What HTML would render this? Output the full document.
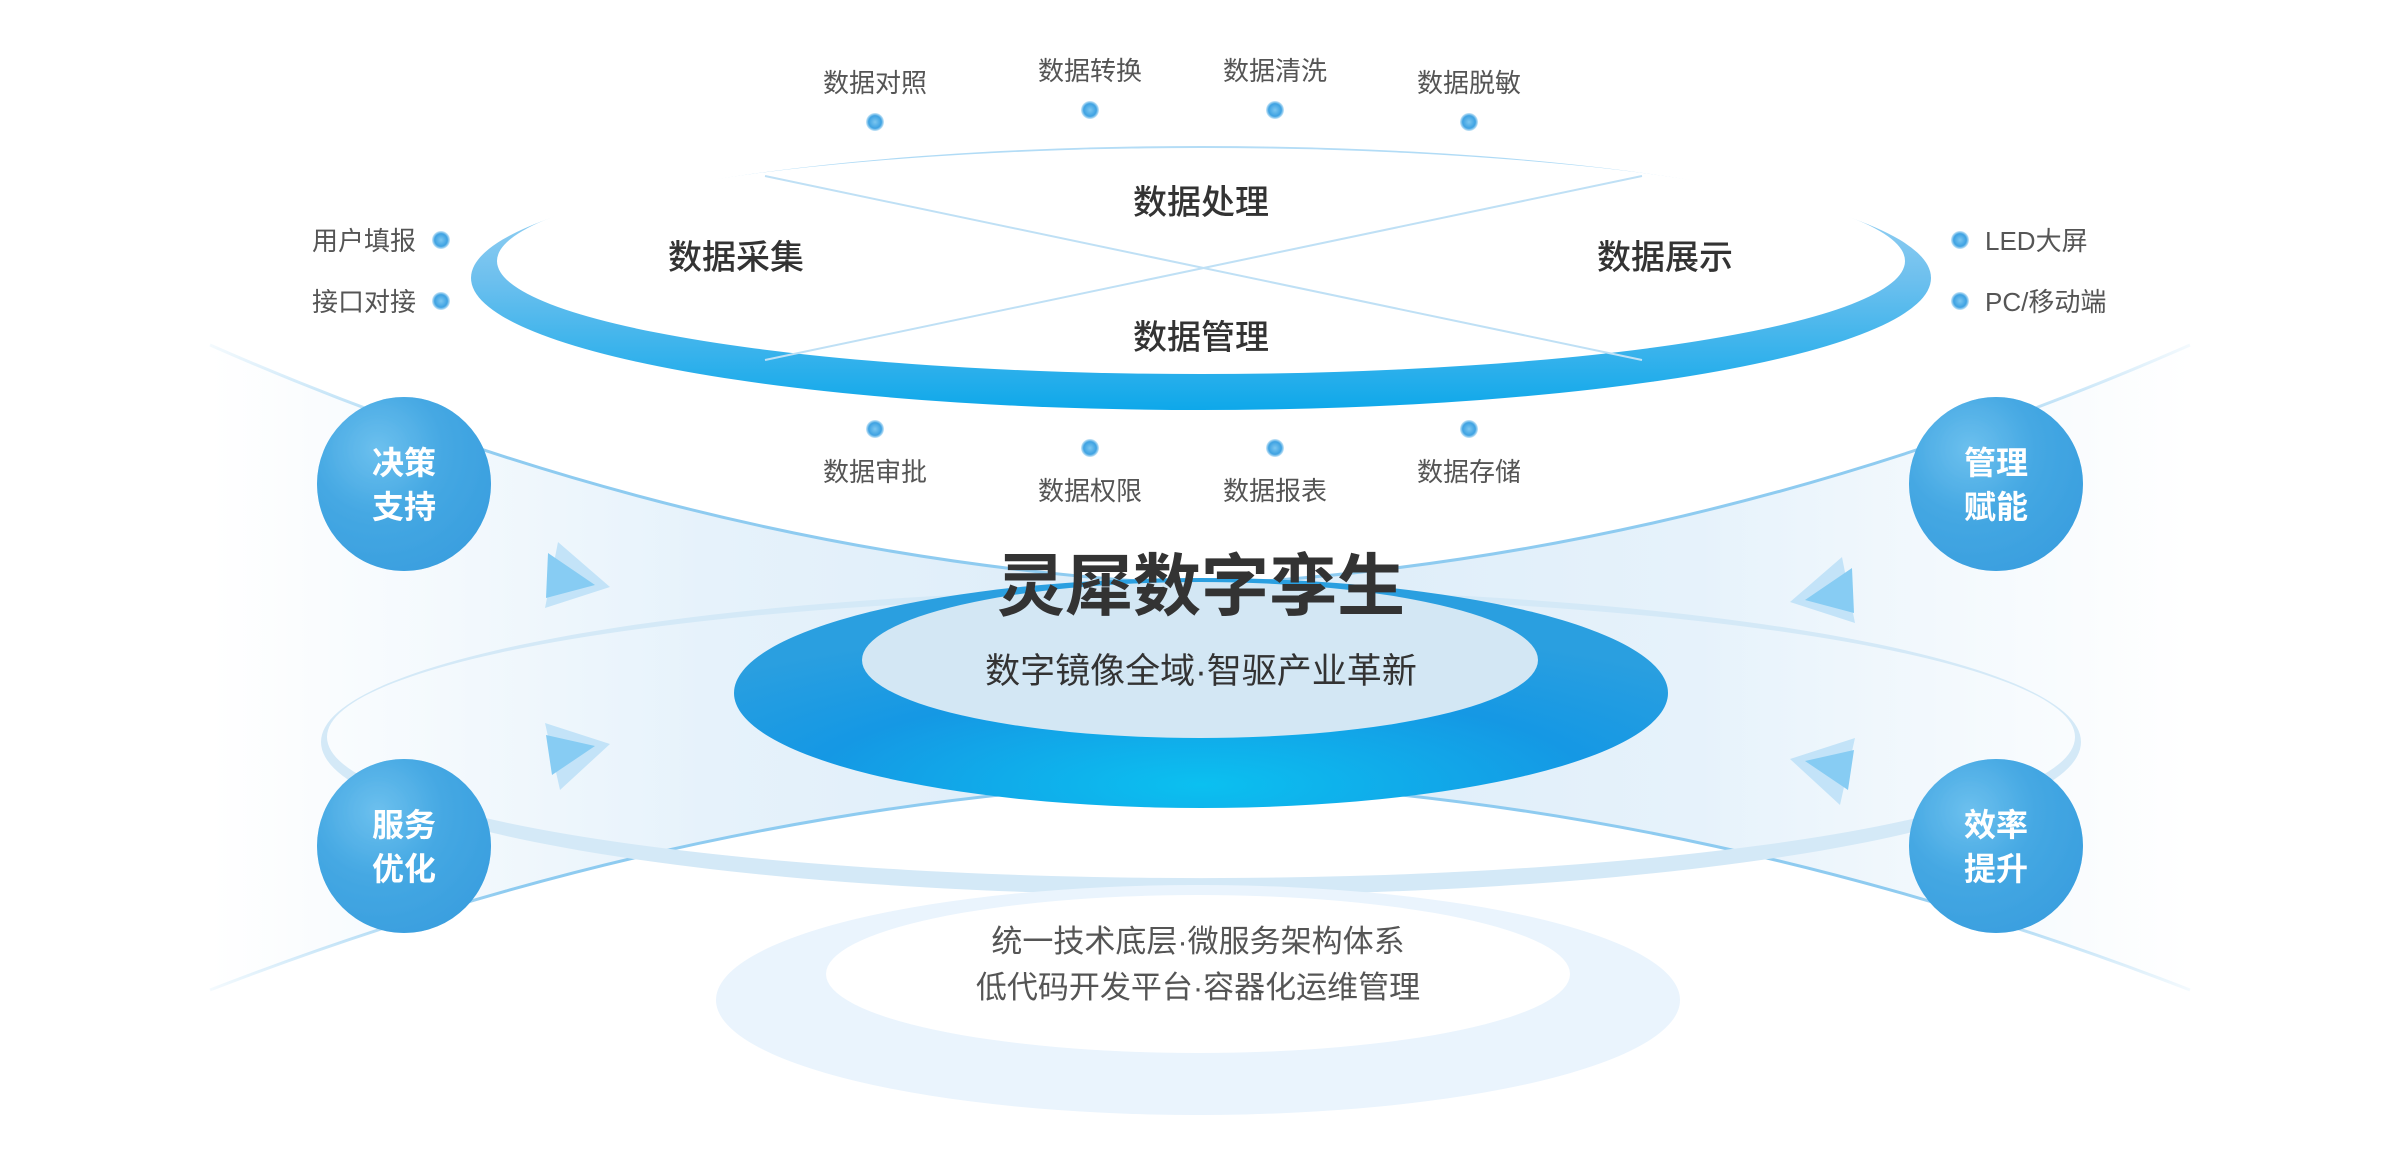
<!DOCTYPE html>
<html><head><meta charset="utf-8"><style>
html,body{margin:0;padding:0;background:#fff;}
svg{display:block;}
text{font-family:"Liberation Sans","Noto Sans CJK SC",sans-serif;}
</style></head><body>
<svg width="2400" height="1164" viewBox="0 0 2400 1164" xmlns="http://www.w3.org/2000/svg">
<defs>
<linearGradient id="hgL" x1="0" x2="1" y1="0" y2="0"><stop offset="0" stop-color="#e8f3fb" stop-opacity="0"/><stop offset="0.5" stop-color="#e6f2fb"/><stop offset="1" stop-color="#dcecf8"/></linearGradient>
<linearGradient id="hgR" x1="1" x2="0" y1="0" y2="0"><stop offset="0" stop-color="#e8f3fb" stop-opacity="0"/><stop offset="0.5" stop-color="#e6f2fb"/><stop offset="1" stop-color="#dcecf8"/></linearGradient>
<linearGradient id="lnL" x1="0" x2="1" y1="0" y2="0"><stop offset="0" stop-color="#8ecbf0" stop-opacity="0.1"/><stop offset="0.3" stop-color="#8ecbf0"/><stop offset="1" stop-color="#8ecbf0"/></linearGradient>
<linearGradient id="lnR" x1="1" x2="0" y1="0" y2="0"><stop offset="0" stop-color="#8ecbf0" stop-opacity="0.1"/><stop offset="0.3" stop-color="#8ecbf0"/><stop offset="1" stop-color="#8ecbf0"/></linearGradient>
<linearGradient id="topRing" x1="0" x2="0" y1="0" y2="1"><stop offset="0" stop-color="#b5ddf6"/><stop offset="0.5" stop-color="#6ec0ee"/><stop offset="1" stop-color="#0ea8ea"/></linearGradient>
<radialGradient id="core" cx="0.5" cy="0.9" r="0.7"><stop offset="0" stop-color="#0bc0f0"/><stop offset="0.6" stop-color="#1598e4"/><stop offset="1" stop-color="#2a9fe0"/></radialGradient>
<radialGradient id="ball" cx="0.35" cy="0.3" r="0.75"><stop offset="0" stop-color="#6cc0ee"/><stop offset="0.5" stop-color="#45a8e3"/><stop offset="1" stop-color="#3a9fdf"/></radialGradient>
<radialGradient id="dot" cx="0.5" cy="0.5" r="0.5"><stop offset="0" stop-color="#7cc6f0"/><stop offset="0.7" stop-color="#3ea2e2"/><stop offset="1" stop-color="#cde8f8"/></radialGradient>
<filter id="sh" x="-30%" y="-30%" width="160%" height="160%"><feGaussianBlur in="SourceAlpha" stdDeviation="8"/><feOffset dy="4"/><feFlood flood-color="#3b9fe0" flood-opacity="0.35"/><feComposite operator="in" in2="SourceAlpha"/><feMerge><feMergeNode/><feMergeNode in="SourceGraphic"/></feMerge></filter>
</defs>

<!-- hourglass fill -->
<path d="M210 345 Q700 560 1201 585 L1201 780 Q700 800 210 990 Z" fill="url(#hgL)"/>
<path d="M2190 345 Q1700 560 1201 585 L1201 780 Q1700 800 2190 990 Z" fill="url(#hgR)"/>
<path d="M210 345 Q700 560 1201 585" fill="none" stroke="url(#lnL)" stroke-width="3"/>
<path d="M1201 585 Q1700 560 2190 345" fill="none" stroke="url(#lnR)" stroke-width="3"/>
<path d="M210 990 Q700 800 1201 780" fill="none" stroke="url(#lnL)" stroke-width="3"/>
<path d="M1201 780 Q1700 800 2190 990" fill="none" stroke="url(#lnR)" stroke-width="3"/>

<!-- middle faint ring -->
<path fill-rule="evenodd" fill="#d4e9f7" d="M321 742 A880 153 0 1 0 2081 742 A880 153 0 1 0 321 742 Z M327 737 A874 141 0 1 1 2075 737 A874 141 0 1 1 327 737 Z"/>

<!-- bottom ellipse -->
<ellipse cx="1198" cy="1000" rx="482" ry="115" fill="#eaf4fd"/>
<ellipse cx="1198" cy="974" rx="372" ry="79" fill="#fff"/>
<text x="1198" y="952" font-size="31" fill="#555" text-anchor="middle">统一技术底层·微服务架构体系</text>
<text x="1198" y="998" font-size="31" fill="#555" text-anchor="middle">低代码开发平台·容器化运维管理</text>

<!-- core -->
<ellipse cx="1201" cy="693" rx="467" ry="115" fill="url(#core)"/>
<ellipse cx="1200" cy="660" rx="338" ry="78" fill="#d3e7f4"/>
<text x="1201" y="610" font-size="68" font-weight="bold" fill="#333" text-anchor="middle">灵犀数字孪生</text>
<text x="1201" y="683" font-size="35" fill="#333" text-anchor="middle">数字镜像全域·智驱产业革新</text>

<!-- arrows -->
<g fill="#7cc8f3" opacity="0.9">
<polygon points="558,542 610,587 545,608" fill="#bfe2f8"/><polygon points="548,553 595,585 546,598"/>
<polygon points="545,723 610,744 560,790" fill="#bfe2f8"/><polygon points="546,735 595,746 552,775"/>
<polygon points="1842,557 1790,602 1855,623" fill="#bfe2f8"/><polygon points="1852,568 1805,600 1854,613"/>
<polygon points="1855,738 1790,759 1840,805" fill="#bfe2f8"/><polygon points="1854,750 1805,761 1848,790"/>
</g>

<!-- top ellipse -->
<ellipse cx="1201" cy="278" rx="730" ry="132" fill="url(#topRing)"/>
<ellipse cx="1201" cy="261" rx="704" ry="113" fill="#fff"/>
<line x1="765" y1="176" x2="1642" y2="360" stroke="#bfe0f5" stroke-width="2"/>
<line x1="765" y1="360" x2="1642" y2="176" stroke="#bfe0f5" stroke-width="2"/>
<g font-size="34" fill="#333" text-anchor="middle" font-weight="500">
<text x="1201" y="214">数据处理</text>
<text x="736" y="269">数据采集</text>
<text x="1665" y="269">数据展示</text>
<text x="1201" y="349">数据管理</text>
</g>

<!-- small nodes -->
<g font-size="26" fill="#555" text-anchor="middle">
<text x="875" y="92">数据对照</text><text x="1090" y="80">数据转换</text><text x="1275" y="80">数据清洗</text><text x="1469" y="92">数据脱敏</text>
<text x="875" y="481">数据审批</text><text x="1090" y="500">数据权限</text><text x="1275" y="500">数据报表</text><text x="1469" y="481">数据存储</text>
<text x="416" y="250" text-anchor="end">用户填报</text><text x="416" y="311" text-anchor="end">接口对接</text>
<text x="1985" y="250" text-anchor="start">LED大屏</text><text x="1985" y="311" text-anchor="start">PC/移动端</text>
</g>
<g fill="url(#dot)">
<circle cx="875" cy="122" r="9"/><circle cx="1090" cy="110" r="9"/><circle cx="1275" cy="110" r="9"/><circle cx="1469" cy="122" r="9"/>
<circle cx="875" cy="429" r="9"/><circle cx="1090" cy="448" r="9"/><circle cx="1275" cy="448" r="9"/><circle cx="1469" cy="429" r="9"/>
<circle cx="441" cy="240" r="9"/><circle cx="441" cy="301" r="9"/><circle cx="1960" cy="240" r="9"/><circle cx="1960" cy="301" r="9"/>
</g>

<!-- balls -->
<g filter="url(#sh)">
<circle cx="404" cy="484" r="87" fill="url(#ball)"/>
<circle cx="404" cy="846" r="87" fill="url(#ball)"/>
<circle cx="1996" cy="484" r="87" fill="url(#ball)"/>
<circle cx="1996" cy="846" r="87" fill="url(#ball)"/>
</g>
<g font-size="32" font-weight="bold" fill="#fff" text-anchor="middle">
<text x="404" y="474">决策</text><text x="404" y="518">支持</text>
<text x="404" y="836">服务</text><text x="404" y="880">优化</text>
<text x="1996" y="474">管理</text><text x="1996" y="518">赋能</text>
<text x="1996" y="836">效率</text><text x="1996" y="880">提升</text>
</g>
</svg>
</body></html>
